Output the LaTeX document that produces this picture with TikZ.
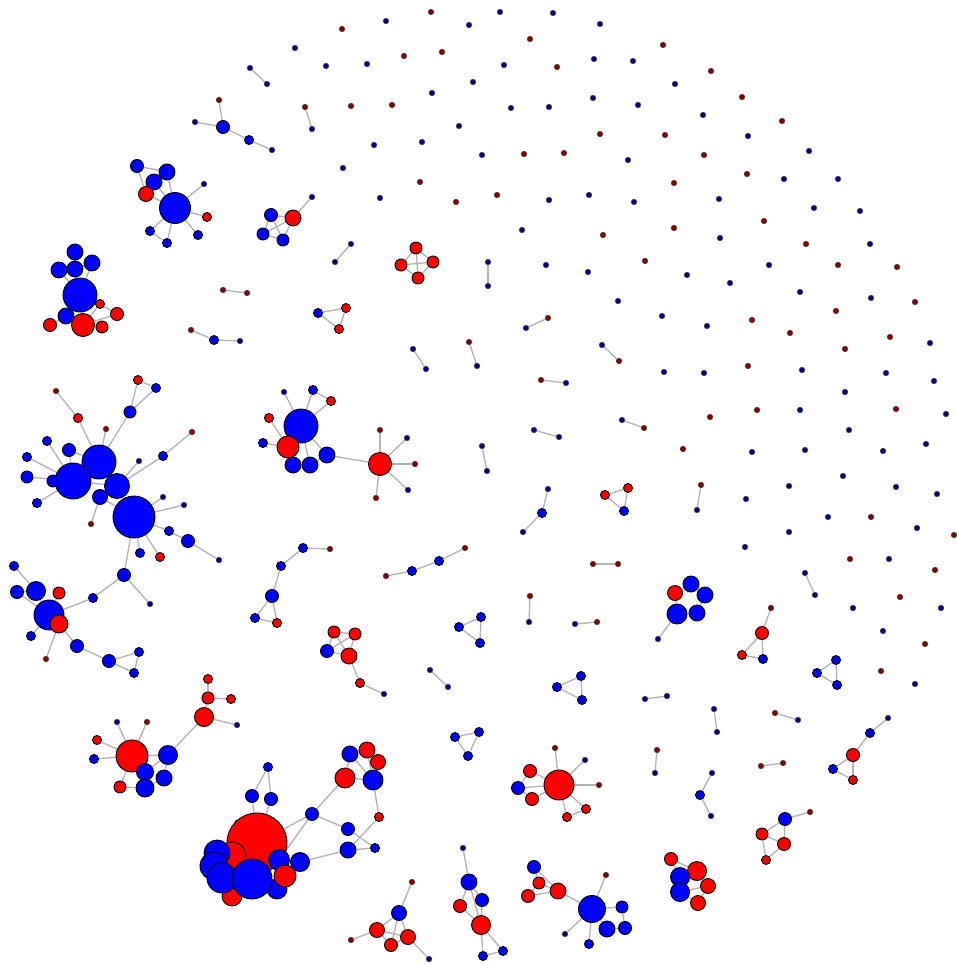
\documentclass[tikz,border=0pt]{standalone}
\usetikzlibrary{backgrounds}
\tikzset{
  B/.style={circle,draw=black,line width=0.9pt,fill=blue,inner sep=0pt,minimum size=#1},
  R/.style={circle,draw=black,line width=0.9pt,fill=red,inner sep=0pt,minimum size=#1},
  bd/.style={circle,draw=black!75,line width=0.6pt,fill=blue!55!black,inner sep=0pt,minimum size=5.5},
  rd/.style={circle,draw=black!75,line width=0.6pt,fill=red!55!black,inner sep=0pt,minimum size=5.5},
  E/.style={draw=black!30,line width=1.3pt},
}
\begin{document}
\begin{tikzpicture}[x=1pt,y=-1pt]
\useasboundingbox (0,0) rectangle (956,964);

% ---- isolated vertices ----
\foreach \x/\y [count=\i] in {295/48,386/21,469/25,500/12,553/13,600/24,326/66,367/64,504/65,594/59,633/61,473/82,432/93,511/108,549/107,593/98,638/105,459/126,374/145,422/142,482/155,628/160,343/168,380/198,549/200,589/195,634/202,522/230,675/84,703/115,748/136,809/151,784/179,838/179,719/199,814/208,860/211,720/238,546/265,588/272,618/301,870/244,687/275,769/265,730/283,800/292,871/298,662/316,707/326,930/343,664/372,704/373,802/370,886/373,934/381,845/392,800/410,946/414,752/452,805/450,849/430,883/451,926/444,843/476,789/486,896/487,937/494,746/499,828/517,917/528,789/532,745/547,889/559,853/608,941/608,883/631,915/684}
  \node[bd] (ib\i) at (\x,\y) {};
\foreach \x/\y [count=\i] in {342/29,431/12,530/39,404/56,442/52,557/67,351/106,392/105,600/134,524/154,564/153,420/182,456/202,497/195,603/235,663/45,711/71,742/97,782/121,665/135,704/155,747/174,674/183,764/221,674/228,806/244,645/261,838/265,897/267,915/302,752/320,790/333,836/311,890/337,845/349,748/366,710/417,757/410,896/409,683/449,871/517,954/535,850/559,935/570,900/597,925/644,881/671}
  \node[rd] (ir\i) at (\x,\y) {};

% ---- pairs of vertices ----
\node[bd] (p1a) at (250,68) {};  \node[bd] (p1b) at (267,84) {};
\node[rd] (p2a) at (305,107) {}; \node[bd] (p2b) at (312,129) {};
\node[bd] (p3a) at (351,244) {}; \node[bd] (p3b) at (335,262) {};
\node[bd] (p4a) at (488,262) {}; \node[bd] (p4b) at (488,286) {};
\node[bd] (p5a) at (526,328) {}; \node[rd] (p5b) at (548,318) {};
\node[bd] (p6a) at (413,349) {}; \node[bd] (p6b) at (426,369) {};
\node[rd] (p7a) at (469,342) {}; \node[bd] (p7b) at (477,366) {};
\node[bd] (p8a) at (602,345) {}; \node[rd] (p8b) at (619,361) {};
\node[rd] (p9a) at (541,380) {}; \node[bd] (p9b) at (566,383) {};
\node[bd] (p10a) at (622,420) {}; \node[rd] (p10b) at (644,428) {};
\node[bd] (p11a) at (534,430) {}; \node[bd] (p11b) at (559,437) {};
\node[bd] (p12a) at (482,446) {}; \node[bd] (p12b) at (487,471) {};
\node[rd] (p13a) at (223,290) {}; \node[rd] (p13b) at (247,293) {};
\node[rd] (p14a) at (701,485) {}; \node[bd] (p14b) at (697,510) {};
\node[bd] (p15a) at (805,573) {}; \node[bd] (p15b) at (815,595) {};
\node[rd] (p16a) at (593,564) {}; \node[rd] (p16b) at (618,564) {};
\node[rd] (p17a) at (530,596) {}; \node[bd] (p17b) at (529,622) {};
\node[bd] (p18a) at (575,624) {}; \node[rd] (p18b) at (597,622) {};
\node[bd] (p19a) at (430,670) {}; \node[bd] (p19b) at (448,687) {};
\node[bd] (p20a) at (645,699) {}; \node[bd] (p20b) at (667,696) {};
\node[bd] (p21a) at (714,709) {}; \node[bd] (p21b) at (717,732) {};
\node[rd] (p22a) at (775,713) {}; \node[bd] (p22b) at (798,720) {};
\node[rd] (p23a) at (657,750) {}; \node[bd] (p23b) at (655,773) {};
\node[rd] (p24a) at (761,766) {}; \node[rd] (p24b) at (783,763) {};

% ---- short chains ----
\node[rd] (q1a) at (191,330) {}; \node[B=9] (q1b) at (214,340) {}; \node[bd] (q1c) at (240,341) {};
\node[bd] (q2a) at (548,489) {}; \node[B=9] (q2b) at (542,513) {}; \node[bd] (q2c) at (523,532) {};
\node[rd] (q3a) at (386,576) {}; \node[B=9] (q3b) at (412,571) {}; \node[B=9] (q3c) at (439,561) {}; \node[rd] (q3d) at (465,548) {};
\node[bd] (q4a) at (712,773) {}; \node[B=9] (q4b) at (700,795) {}; \node[bd] (q4c) at (711,816) {};

% ---- triangles ----
\node[B=9] (r1a) at (318,313) {}; \node[R=9] (r1b) at (346,308) {}; \node[R=9] (r1c) at (339,329) {};
\node[R=9] (r2a) at (605,495) {}; \node[R=9] (r2b) at (628,488) {}; \node[B=9] (r2c) at (624,511) {};
\node[B=9] (r3a) at (459,627) {}; \node[B=9] (r3b) at (481,617) {}; \node[B=9] (r3c) at (480,643) {};
\node[B=9] (r4a) at (557,687) {}; \node[B=9] (r4b) at (581,676) {}; \node[B=9] (r4c) at (582,700) {};
\node[B=9] (r5a) at (817,673) {}; \node[B=9] (r5b) at (836,660) {}; \node[B=9] (r5c) at (837,685) {};
\node[B=9] (r6a) at (455,737) {}; \node[B=9] (r6b) at (479,732) {}; \node[B=9] (r6c) at (468,756) {};

% ---- red square ----
\node[R=12] (s1) at (416,248) {}; \node[R=12] (s2) at (401,265) {};
\node[R=12] (s3) at (433,262) {}; \node[R=12] (s4) at (418,278) {};

% ---- upper left groups ----
\node[rd] (t1) at (219,100) {}; \node[B=13] (t2) at (223,127) {}; \node[bd] (t3) at (195,122) {};
\node[B=9] (t4) at (249,140) {}; \node[bd] (t5) at (272,150) {};

\node[B=13] (a1) at (137,166) {}; \node[B=16] (a2) at (167,172) {}; \node[B=16] (a3) at (154,182) {};
\node[R=15] (a4) at (146,194) {}; \node[B=31] (a5) at (175,208) {}; \node[bd] (a6) at (204,184) {};
\node[R=9] (a7) at (207,217) {}; \node[B=9] (a8) at (150,231) {}; \node[B=9] (a9) at (167,243) {};
\node[B=9] (a10) at (198,235) {};

\node[bd] (b1) at (312,197) {}; \node[R=16] (b2) at (293,218) {}; \node[B=13] (b3) at (271,215) {};
\node[B=12] (b4) at (263,234) {}; \node[B=12] (b5) at (283,240) {};

\node[B=16] (c1) at (75,252) {}; \node[B=16] (c2) at (59,270) {}; \node[B=16] (c3) at (75,269) {};
\node[B=16] (c4) at (92,263) {}; \node[B=34] (c5) at (80,295) {}; \node[R=9] (c6) at (100,304) {};
\node[R=13] (c7) at (117,314) {}; \node[B=16] (c8) at (66,316) {}; \node[R=23] (c9) at (83,325) {};
\node[R=13] (c10) at (50,325) {}; \node[R=12] (c11) at (102,327) {};

% ---- large left group ----
\node[rd] (d1) at (56,391) {}; \node[R=9] (d2) at (78,418) {}; \node[R=9] (d3) at (138,380) {};
\node[B=9] (d4) at (156,388) {}; \node[B=12] (d5) at (130,412) {}; \node[rd] (d6) at (106,429) {};
\node[rd] (d7) at (192,432) {}; \node[B=9] (d8) at (163,456) {}; \node[bd] (d9) at (139,461) {};
\node[B=9] (d10) at (47,441) {}; \node[B=13] (d11) at (69,450) {}; \node[B=9] (d12) at (27,457) {};
\node[B=12] (d18) at (27,477) {}; \node[B=12] (d28) at (53,481) {}; \node[B=9] (d19) at (37,503) {};
\node[B=34] (d13) at (99,462) {}; \node[B=36] (d14) at (73,481) {}; \node[B=25] (d15) at (117,486) {};
\node[B=15] (d16) at (100,497) {}; \node[B=42] (d17) at (134,517) {}; \node[rd] (d20) at (91,524) {};
\node[bd] (d21) at (163,497) {}; \node[bd] (d22) at (184,505) {}; \node[B=9] (d23) at (169,531) {};
\node[B=13] (d24) at (188,541) {}; \node[bd] (d25) at (219,560) {}; \node[B=9] (d26) at (140,553) {};
\node[R=9] (d27) at (160,557) {};

% ---- left lower group ----
\node[B=13] (f1) at (124,575) {}; \node[bd] (f2) at (150,604) {}; \node[B=9] (f3) at (93,598) {};
\node[B=9] (f4) at (14,566) {}; \node[B=13] (f5) at (17,592) {}; \node[B=19] (f6) at (36,591) {};
\node[R=12] (f7) at (59,593) {}; \node[B=30] (f8) at (49,615) {}; \node[R=18] (f9) at (59,624) {};
\node[B=9] (f10) at (31,636) {}; \node[rd] (f11) at (46,659) {}; \node[B=13] (f12) at (77,646) {};
\node[B=13] (f13) at (109,661) {}; \node[B=9] (f14) at (139,652) {}; \node[B=9] (f15) at (134,673) {};

% ---- middle left group ----
\node[bd] (e1) at (284,392) {}; \node[B=9] (e2) at (313,390) {}; \node[R=9] (e3) at (331,401) {};
\node[R=9] (e4) at (269,418) {}; \node[B=34] (e5) at (301,426) {}; \node[B=9] (e6) at (263,443) {};
\node[R=22] (e7) at (288,447) {}; \node[B=16] (e8) at (293,465) {}; \node[B=16] (e9) at (310,465) {};
\node[B=16] (e10) at (327,455) {}; \node[R=23] (e11) at (380,464) {}; \node[rd] (e12) at (380,430) {};
\node[bd] (e13) at (407,438) {}; \node[rd] (e14) at (415,464) {}; \node[rd] (e15) at (376,498) {};
\node[bd] (e16) at (408,490) {};

\node[B=9] (g20) at (303,548) {}; \node[rd] (g21) at (330,549) {}; \node[B=9] (g22) at (281,566) {};
\node[B=13] (g23) at (272,596) {}; \node[B=9] (g24) at (255,618) {}; \node[R=9] (g25) at (277,623) {};

\node[R=12] (k1) at (334,632) {}; \node[R=12] (k2) at (355,634) {}; \node[B=13] (k3) at (327,651) {};
\node[R=16] (k4) at (349,656) {}; \node[R=9] (k5) at (360,683) {}; \node[bd] (k6) at (384,694) {};

% ---- lower left groups ----
\node[R=9] (h1) at (208,679) {}; \node[R=12] (h2) at (208,698) {}; \node[R=9] (h3) at (231,699) {};
\node[R=19] (h4) at (204,717) {}; \node[bd] (h5) at (237,725) {};
\node[bd] (u1) at (117,722) {}; \node[rd] (u2) at (147,722) {}; \node[R=9] (u3) at (97,740) {};
\node[B=9] (u4) at (94,759) {}; \node[R=32] (u5) at (132,756) {}; \node[B=19] (u6) at (168,755) {};
\node[B=17] (u7) at (145,772) {}; \node[B=16] (u8) at (164,778) {}; \node[B=18] (u9) at (145,788) {};
\node[R=12] (u10) at (120,787) {};

\node[B=9] (g1) at (268,767) {}; \node[B=13] (g2) at (252,796) {}; \node[B=13] (g3) at (271,799) {};
\node[B=13] (g4) at (312,814) {}; \node[B=9] (g5) at (239,824) {};
\node[R=60] (g6) at (257,843) {}; \node[R=20] (g10) at (232,896) {}; \node[R=28] (g7) at (232,856) {};
\node[B=26] (g8) at (217,853) {}; \node[B=28] (g9) at (214,866) {}; \node[B=30] (g11) at (222,878) {};
\node[B=21] (g13) at (279,860) {}; \node[B=20] (g15) at (277,889) {}; \node[B=40] (g12) at (252,879) {};
\node[B=19] (g14) at (300,862) {}; \node[R=22] (g16) at (285,876) {};

\node[B=16] (m1) at (350,754) {}; \node[R=16] (m2) at (367,750) {}; \node[R=15] (m3) at (378,762) {};
\node[R=20] (m4) at (345,778) {}; \node[B=20] (m5) at (373,780) {}; \node[R=9] (m6) at (379,817) {};
\node[B=13] (m7) at (348,829) {}; \node[B=16] (m8) at (348,850) {}; \node[B=9] (m9) at (375,848) {};

% ---- lower middle groups ----
\node[rd] (j1) at (412,882) {}; \node[B=15] (j2) at (399,913) {}; \node[R=15] (j3) at (377,930) {};
\node[R=15] (j4) at (408,937) {}; \node[R=13] (j5) at (391,945) {}; \node[rd] (j6) at (351,940) {};
\node[bd] (j7) at (429,959) {};

\node[bd] (i1) at (463,848) {}; \node[B=16] (i2) at (469,882) {}; \node[B=13] (i3) at (482,900) {};
\node[R=13] (i4) at (460,906) {}; \node[R=19] (i5) at (481,925) {}; \node[B=9] (i6) at (483,956) {};
\node[B=9] (i7) at (503,951) {};

\node[rd] (n1) at (555,748) {}; \node[bd] (n2) at (585,760) {}; \node[R=30] (n3) at (559,785) {};
\node[rd] (n4) at (599,785) {}; \node[R=13] (n5) at (530,771) {}; \node[B=13] (n6) at (518,788) {};
\node[R=13] (n7) at (532,799) {}; \node[R=9] (n8) at (567,817) {}; \node[R=9] (n9) at (586,809) {};

\node[B=13] (l1) at (534,867) {}; \node[R=12] (l2) at (539,883) {}; \node[R=13] (l3) at (528,896) {};
\node[R=16] (l4) at (558,891) {}; \node[B=27] (l5) at (592,909) {}; \node[rd] (l6) at (606,875) {};
\node[B=12] (l7) at (622,907) {}; \node[B=16] (l8) at (607,929) {}; \node[B=13] (l9) at (625,928) {};
\node[bd] (l10) at (565,934) {}; \node[B=9] (l11) at (589,944) {};

% ---- right groups ----
\node[R=15] (v1) at (675,593) {}; \node[B=16] (v2) at (691,584) {}; \node[B=16] (v3) at (705,595) {};
\node[B=20] (v4) at (677,614) {}; \node[B=16] (v5) at (697,613) {}; \node[bd] (v6) at (658,639) {};

\node[rd] (w1) at (771,608) {}; \node[R=13] (w2) at (762,633) {}; \node[R=9] (w3) at (742,655) {};
\node[B=9] (w4) at (763,659) {};

\node[bd] (o1) at (888,718) {}; \node[B=9] (o2) at (870,733) {}; \node[R=13] (o3) at (853,755) {};
\node[B=9] (o4) at (833,769) {}; \node[R=9] (o5) at (853,780) {};

\node[rd] (x1) at (810,812) {}; \node[B=13] (x2) at (785,819) {}; \node[R=12] (x3) at (762,834) {};
\node[R=13] (x4) at (784,844) {}; \node[R=9] (x5) at (766,860) {};

\node[R=13] (y1) at (671,859) {}; \node[R=19] (y2) at (697,871) {}; \node[B=19] (y3) at (680,877) {};
\node[R=15] (y4) at (708,886) {}; \node[B=19] (y5) at (680,892) {}; \node[R=15] (y6) at (698,903) {};

% ---- edges, behind the vertices ----
\begin{scope}[on background layer]
\fill[white] (0,0) rectangle (956,964);
\foreach \a/\b in {p1a/p1b,p2a/p2b,p3a/p3b,p4a/p4b,p5a/p5b,p6a/p6b,p7a/p7b,p8a/p8b,p9a/p9b,p10a/p10b,p11a/p11b,p12a/p12b,p13a/p13b,p14a/p14b,p15a/p15b,p16a/p16b,p17a/p17b,p18a/p18b,p19a/p19b,p20a/p20b,p21a/p21b,p22a/p22b,p23a/p23b,p24a/p24b,
  q1a/q1b,q1b/q1c,q2a/q2b,q2b/q2c,q3a/q3b,q3b/q3c,q3c/q3d,q4a/q4b,q4b/q4c,
  r1a/r1b,r1b/r1c,r1a/r1c,r2a/r2b,r2b/r2c,r2a/r2c,r3a/r3b,r3b/r3c,r3a/r3c,r4a/r4b,r4b/r4c,r4a/r4c,r5a/r5b,r5b/r5c,r5a/r5c,r6a/r6b,r6b/r6c,r6a/r6c,
  s1/s2,s1/s3,s1/s4,s2/s3,s2/s4,s3/s4,
  t1/t2,t3/t2,t2/t4,t4/t5,
  a1/a2,a1/a4,a2/a5,a3/a5,a4/a5,a5/a6,a5/a7,a5/a8,a5/a9,a5/a10,a8/a9,
  b1/b2,b2/b3,b2/b4,b2/b5,b3/b4,b3/b5,b4/b5,
  c1/c3,c2/c3,c3/c4,c2/c5,c4/c5,c3/c5,c5/c6,c5/c8,c5/c9,c6/c7,c9/c7,c9/c11,c8/c10,c8/c9,c6/c9,
  d1/d2,d2/d13,d3/d4,d3/d5,d4/d5,d5/d13,d6/d13,d7/d8,d8/d15,d9/d15,d10/d14,d11/d13,d11/d14,d12/d14,d18/d14,d28/d14,d19/d14,d13/d14,d13/d15,d14/d15,d15/d16,d16/d20,d16/d17,d15/d17,d21/d17,d22/d17,d23/d17,d23/d24,d24/d25,d26/d17,d27/d17,d17/f1,
  f1/f2,f1/f3,f3/f8,f4/f6,f5/f6,f6/f8,f5/f8,f7/f8,f8/f10,f9/f11,f9/f12,f12/f13,f13/f14,f13/f15,f14/f15,
  e1/e5,e2/e5,e2/e3,e3/e5,e4/e7,e6/e7,e7/e8,e5/e9,e5/e10,e9/e10,e10/e11,e11/e12,e11/e13,e11/e14,e11/e15,e11/e16,
  g20/g21,g20/g22,g22/g23,g23/g24,g23/g25,g24/g25,
  k1/k2,k1/k3,k1/k4,k2/k3,k2/k4,k3/k4,k4/k5,k5/k6,
  h1/h2,h2/h3,h2/h4,h4/h5,h4/u6,
  u5/u1,u5/u2,u5/u3,u5/u4,u5/u10,u5/u7,u5/u6,u7/u6,u8/u6,u9/u8,u10/u9,u7/u9,
  g1/g2,g1/g3,g2/g6,g3/g6,g4/g6,g5/g6,g13/g4,g4/m4,g4/m7,g14/m8,
  m1/m2,m1/m4,m1/m5,m2/m3,m2/m5,m3/m5,m4/m5,m5/m6,m6/m8,m7/m9,m8/m9,
  j1/j2,j2/j3,j2/j4,j2/j5,j3/j4,j3/j5,j4/j5,j3/j6,j4/j7,
  i1/i2,i2/i3,i2/i4,i2/i5,i3/i5,i4/i5,i5/i6,i5/i7,i6/i7,
  n3/n1,n3/n2,n3/n4,n3/n5,n3/n6,n3/n7,n3/n8,n3/n9,n6/n5,n6/n7,n8/n9,
  l1/l2,l1/l4,l2/l3,l2/l4,l3/l4,l4/l5,l5/l6,l5/l7,l5/l8,l7/l9,l8/l9,l5/l10,l5/l11,
  v1/v2,v2/v3,v3/v5,v5/v4,v4/v1,v4/v6,
  w1/w2,w2/w3,w2/w4,w3/w4,
  o1/o2,o2/o3,o3/o4,o3/o5,o4/o5,
  x1/x2,x2/x3,x2/x4,x3/x4,x3/x5,x4/x5,
  y1/y2,y1/y3,y2/y3,y2/y4,y3/y5,y4/y5,y4/y6,y5/y6,y2/y5}
  \draw[E] (\a) -- (\b);
\end{scope}
\end{tikzpicture}
\end{document}
